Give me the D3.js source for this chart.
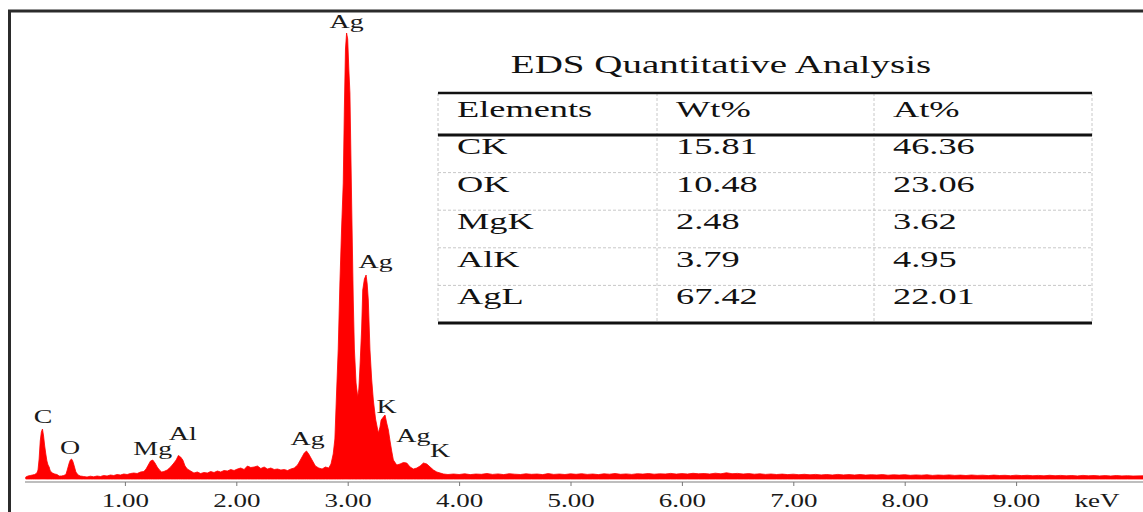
<!DOCTYPE html>
<html>
<head>
<meta charset="utf-8">
<script src="https://cdn.jsdelivr.net/npm/d3@7"></script>
<style>
  html, body { margin: 0; padding: 0; background: #fff; }
  svg { display: block; font-family: "Liberation Serif", "DejaVu Serif", serif; }
</style>
</head>
<body>
<svg id="chart" width="1143" height="512"></svg>
<script>
// spectrum (keV, counts)
var spectrum = [
	[0.11,20],[0.13,30],[0.15,35],[0.17,40],[0.19,45],[0.21,60],[0.22,90],[0.23,200],[0.24,380],[0.25,470],
	[0.26,500],[0.27,430],[0.28,330],[0.29,250],[0.30,180],[0.31,140],[0.32,120],[0.33,80],[0.35,60],[0.37,50],
	[0.39,45],[0.41,30],[0.43,30],[0.45,35],[0.47,45],[0.48,80],[0.49,120],[0.50,160],[0.51,190],[0.52,200],
	[0.53,185],[0.54,150],[0.55,110],[0.56,70],[0.58,40],[0.60,30],[0.63,25],[0.66,20],[0.69,28],[0.72,22],
	[0.75,30],[0.78,25],[0.81,35],[0.84,30],[0.87,40],[0.90,35],[0.93,45],[0.96,40],[0.99,50],[1.02,45],
	[1.05,55],[1.08,60],[1.11,55],[1.14,70],[1.17,75],[1.19,100],[1.21,140],[1.23,180],[1.25,190],[1.27,160],
	[1.29,120],[1.31,90],[1.33,70],[1.35,75],[1.38,90],[1.41,120],[1.44,160],[1.46,190],[1.48,235],[1.50,220],
	[1.52,190],[1.54,130],[1.56,100],[1.59,80],[1.62,60],[1.65,70],[1.68,55],[1.71,65],[1.74,60],[1.77,75],
	[1.80,65],[1.83,80],[1.86,70],[1.89,85],[1.92,80],[1.95,95],[1.98,85],[2.01,100],[2.04,110],[2.07,95],
	[2.10,130],[2.13,115],[2.16,120],[2.19,130],[2.22,105],[2.25,120],[2.28,100],[2.31,110],[2.34,95],[2.37,100],
	[2.40,90],[2.43,95],[2.46,85],[2.49,100],[2.52,110],[2.55,140],[2.58,200],[2.61,260],[2.63,280],[2.65,250],
	[2.68,190],[2.71,130],[2.74,110],[2.77,100],[2.80,120],[2.83,110],[2.85,150],[2.87,250],[2.885,400],[2.90,860],
	[2.915,1300],[2.93,1960],[2.945,2500],[2.96,2960],[2.97,3700],[2.98,4300],[2.99,4460],[3.00,4400],[3.01,4100],[3.02,3860],
	[3.035,2790],[3.05,1790],[3.06,1300],[3.075,960],[3.09,820],[3.10,900],[3.11,1120],[3.125,1500],[3.135,1890],[3.15,2000],
	[3.165,2040],[3.175,1950],[3.185,1790],[3.20,1290],[3.215,1000],[3.23,790],[3.25,600],[3.275,460],[3.29,520],[3.30,590],
	[3.32,620],[3.335,640],[3.35,560],[3.365,490],[3.38,380],[3.395,280],[3.41,190],[3.44,140],[3.47,150],[3.50,165],
	[3.53,160],[3.56,120],[3.59,100],[3.62,110],[3.65,130],[3.68,160],[3.71,150],[3.74,120],[3.77,90],[3.80,70],
	[3.83,60],[3.86,50],[3.90,45],[3.95,50],[4.00,45],[4.05,52],[4.10,44],[4.15,50],[4.20,47],[4.25,55],
	[4.30,46],[4.35,51],[4.40,44],[4.45,53],[4.50,48],[4.55,45],[4.60,52],[4.65,47],[4.70,50],[4.75,44],
	[4.80,54],[4.85,46],[4.90,50],[4.95,45],[5.00,52],[5.05,47],[5.10,53],[5.15,46],[5.20,50],[5.25,44],
	[5.30,52],[5.35,48],[5.40,55],[5.45,47],[5.50,51],[5.55,46],[5.60,53],[5.65,49],[5.70,55],[5.75,48],
	[5.80,52],[5.85,50],[5.90,56],[5.95,49],[6.00,54],[6.05,50],[6.10,57],[6.15,52],[6.20,55],[6.25,50],
	[6.30,58],[6.35,52],[6.40,62],[6.45,53],[6.50,56],[6.55,50],[6.60,54],[6.65,48],[6.70,52],[6.75,46],
	[6.80,50],[6.85,45],[6.90,49],[6.95,44],[7.00,48],[7.05,43],[7.10,47],[7.15,42],[7.20,46],[7.25,41],
	[7.30,45],[7.35,40],[7.40,46],[7.45,41],[7.50,44],[7.55,40],[7.60,45],[7.65,39],[7.70,43],[7.75,40],
	[7.80,44],[7.85,38],[7.90,42],[7.95,39],[8.00,43],[8.05,37],[8.10,41],[8.15,38],[8.20,42],[8.25,36],
	[8.30,40],[8.35,37],[8.40,41],[8.45,36],[8.50,39],[8.55,35],[8.60,40],[8.65,36],[8.70,38],[8.75,34],
	[8.80,39],[8.85,35],[8.90,37],[8.95,33],[9.00,38],[9.05,34],[9.10,37],[9.15,33],[9.20,36],[9.25,32],
	[9.30,37],[9.35,33],[9.40,36],[9.45,32],[9.50,35],[9.55,31],[9.60,36],[9.65,32],[9.70,35],[9.75,31],
	[9.80,34],[9.85,30],[9.90,35],[9.95,31],[10.00,33],[10.05,30],[10.14,32]
];

// peak labels: text, keV, counts (baseline of the text)
var peakNames  = ["C", "O", "Mg", "Al", "Ag", "Ag", "Ag", "K", "Ag", "K"];
var peakKeV    = [0.265, 0.507, 1.25, 1.52, 2.64, 2.99, 3.25, 3.35, 3.59, 3.83];
var peakCounts = [560, 250, 240, 390, 340, 4510, 2110, 660, 370, 220];

var tickValues = [1, 2, 3, 4, 5, 6, 7, 8, 9];

// table
var tableTitle = "EDS Quantitative Analysis";
var tableHeader = ["Elements", "Wt%", "At%"];
var elements = ["CK", "OK", "MgK", "AlK", "AgL"];
var wtPct = ["15.81", "10.48", "2.48", "3.79", "67.42"];
var atPct = ["46.36", "23.06", "3.62", "4.95", "22.01"];

var svg = d3.select("#chart");

var x = d3.scaleLinear().domain([0, 10]).range([13.5, 13.5 + 1114]);
var y = d3.scaleLinear().domain([0, 4460]).range([479, 33]);

// the original picture is stretched sideways, so the text is too
function stretch(sel, k) {
	sel.each(function(){
		var w = this.getComputedTextLength();
		d3.select(this)
			.attr("textLength", w * k)
			.attr("lengthAdjust", "spacingAndGlyphs");
	});
}

// frame
svg.append("path")
	.attr("d", "M9.5,512 V11 H1143")
	.attr("fill", "none")
	.attr("stroke", "#2b2b2b")
	.attr("stroke-width", 3);

// axis
var axis = d3.axisBottom(x)
	.tickValues(tickValues)
	.tickFormat(d3.format(".2f"))
	.tickSizeInner(4)
	.tickSizeOuter(0)
	.tickPadding(8);

var gx = svg.append("g")
	.attr("transform", "translate(0,482)")
	.call(axis);
gx.select(".domain").remove();
gx.insert("line", ":first-child")
	.attr("x1", 25).attr("x2", 1143)
	.attr("stroke", "#a8a8a8").attr("stroke-width", 1.5);
gx.selectAll(".tick line").attr("stroke", "#777");
gx.selectAll(".tick text")
	.attr("font-family", "Liberation Serif, serif")
	.attr("font-size", 19)
	.attr("fill", "#1a1a1a")
	.call(stretch, 1.42);

svg.append("text")
	.attr("x", 1097).attr("y", 507)
	.attr("text-anchor", "middle")
	.attr("font-size", 19)
	.attr("fill", "#1a1a1a")
	.text("keV")
	.call(stretch, 1.42);

// spectrum
var area = d3.area()
	.x(function(d){ return x(d[0]); })
	.y0(y(0))
	.y1(function(d){ return y(d[1]); });

svg.append("path")
	.datum(spectrum)
	.attr("d", area)
	.attr("fill", "#ff0000")
	.attr("stroke", "#ff0000")
	.attr("stroke-width", 0.8);

// peak labels
svg.append("g")
	.selectAll("text")
	.data(peakNames)
	.enter()
	.append("text")
	.attr("x", function(d, i){ return x(peakKeV[i]); })
	.attr("y", function(d, i){ return y(peakCounts[i]); })
	.attr("text-anchor", "middle")
	.attr("font-size", 18)
	.attr("fill", "#1a1a1a")
	.text(function(d){ return d; })
	.call(stretch, 1.55);

// table
var colX = [438, 657, 874, 1092];
var headTop = 93, headBottom = 135, tableBottom = 323;
var rowH = (tableBottom - headBottom) / elements.length;

var tbl = svg.append("g");

tbl.append("text")
	.attr("x", (colX[0] + colX[3]) / 2 - 44)
	.attr("y", 73)
	.attr("text-anchor", "middle")
	.attr("font-size", 26)
	.attr("fill", "#111")
	.text(tableTitle)
	.call(stretch, 1.5);

// dashed grid
var rowLines = d3.range(1, elements.length).map(function(i){ return headBottom + i * rowH; });
tbl.selectAll(".hline")
	.data(rowLines)
	.enter()
	.append("line")
	.attr("x1", colX[0]).attr("x2", colX[3])
	.attr("y1", function(d){ return d; }).attr("y2", function(d){ return d; })
	.attr("stroke", "#c8c8c8").attr("stroke-dasharray", "3,2");
tbl.selectAll(".vline")
	.data(colX)
	.enter()
	.append("line")
	.attr("x1", function(d){ return d; }).attr("x2", function(d){ return d; })
	.attr("y1", headTop).attr("y2", tableBottom)
	.attr("stroke", "#c8c8c8").attr("stroke-dasharray", "3,2");

// solid rules
[headTop, headBottom, tableBottom].forEach(function(yy, i){
	tbl.append("line")
		.attr("x1", colX[0]).attr("x2", colX[3])
		.attr("y1", yy).attr("y2", yy)
		.attr("stroke", "#111")
		.attr("stroke-width", i == 0 ? 2.5 : 3);
});

tbl.selectAll(".head")
	.data(tableHeader)
	.enter()
	.append("text")
	.attr("x", function(d, i){ return colX[i] + 19; })
	.attr("y", 117)
	.attr("font-size", 23)
	.attr("fill", "#111")
	.text(function(d){ return d; })
	.call(stretch, 1.58);

var rows = elements.map(function(e, i){ return [e, wtPct[i], atPct[i]]; });
rows.forEach(function(r, i){
	tbl.selectAll(".row" + i)
		.data(r)
		.enter()
		.append("text")
		.attr("x", function(d, j){ return colX[j] + 19; })
		.attr("y", headBottom + i * rowH + 19)
		.attr("font-size", 23)
		.attr("fill", "#111")
		.text(function(d){ return d; })
		.call(stretch, 1.58);
});
</script>
</body>
</html>
